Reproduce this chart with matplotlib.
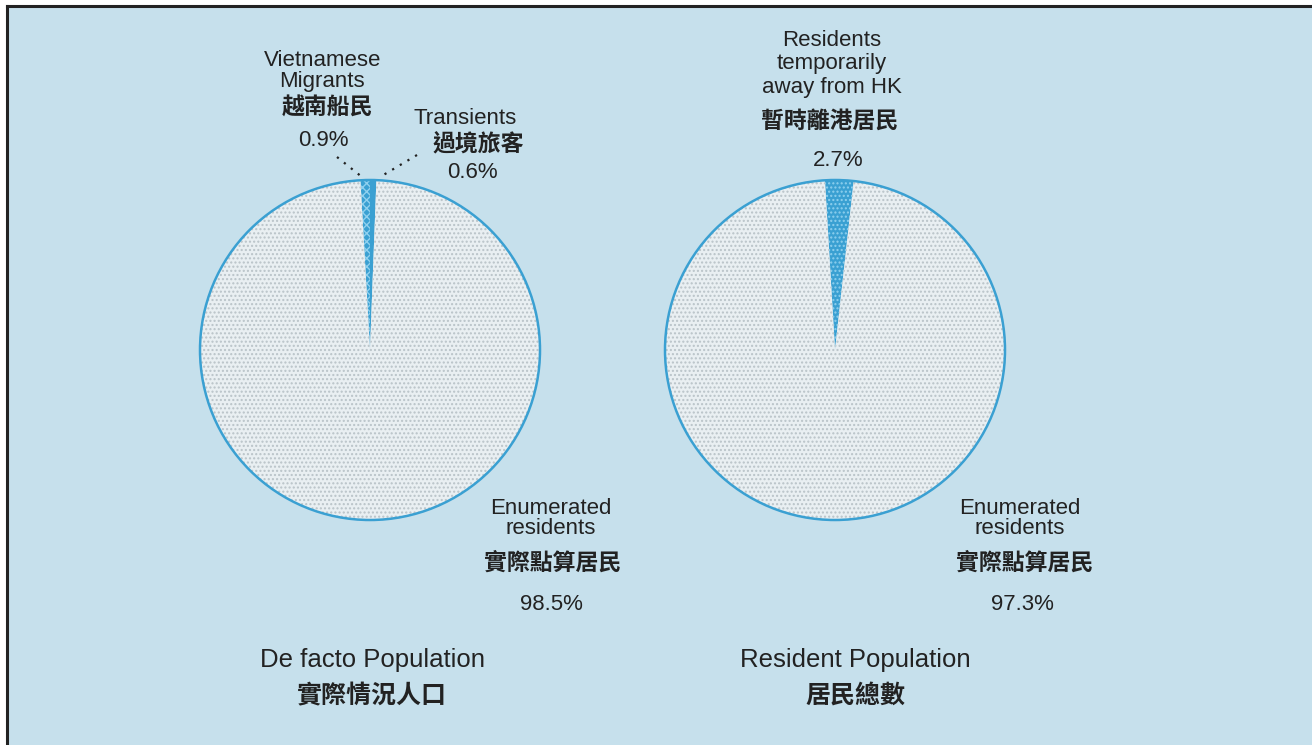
import matplotlib.pyplot as plt
from matplotlib.patches import Circle, Rectangle

# -------------------------
# DATA
# -------------------------
defacto_labels = ["Vietnamese Migrants", "Transients", "Enumerated residents"]
defacto_values = [0.9, 0.6, 98.5]

resident_labels = ["Residents temporarily away from HK", "Enumerated residents"]
resident_values = [2.7, 97.3]

# -------------------------
# STYLE
# -------------------------
BG = "#c6e0ec"
PIE_FILL = "#e9eff2"
DOTS = "#b9c3c8"
BLUE = "#3aa0d2"
TXT = "#222222"
FONT = ["Liberation Sans", "Noto Sans CJK TC"]
CJK = ["Noto Sans CJK TC", "Liberation Sans"]

W, H = 1312, 745
fig = plt.figure(figsize=(W / 100, H / 100), dpi=100)
fig.patch.set_facecolor("white")
ax = fig.add_axes([0, 0, 1, 1])
ax.set_xlim(0, W)
ax.set_ylim(0, H)
ax.set_aspect("equal")
ax.axis("off")

# background panel with frame on top and left
ax.add_patch(Rectangle((7, 0), W - 7, H - 6, facecolor=BG, edgecolor="none", zorder=0))
ax.plot([7, 7], [0, H - 6], color="#222222", lw=2.2, zorder=1)
ax.plot([7, W], [H - 6, H - 6], color="#222222", lw=2.2, zorder=1)


def y(p):
    # pixel row from the top -> data y
    return H - p


def draw_pie(values, center, start, hatches):
    wedges, _ = ax.pie(values, center=center, radius=170, startangle=start,
                       counterclock=False, frame=True,
                       colors=[BLUE] * (len(values) - 1) + [PIE_FILL],
                       wedgeprops=dict(linewidth=0))
    for w, h in zip(wedges, hatches):
        if h:
            w.set_hatch(h)
            w.set_edgecolor(DOTS if w.get_facecolor()[0] > 0.8 else "#8fd0ee")
    ax.add_patch(Circle(center, 170, fill=False, edgecolor=BLUE, lw=1.8, zorder=5))


c1 = (370, y(350))
c2 = (835, y(350))
draw_pie(defacto_values, c1, 90 + defacto_values[0] * 3.6, ["xxxx", None, "...."])
draw_pie(resident_values, c2, 93.4, ["....", "...."])

# restore limits after pie
ax.set_xlim(0, W)
ax.set_ylim(0, H)
ax.axis("off")


def label(x, p, s, size=16, cjk=False, weight="normal"):
    ax.text(x, y(p), s, ha="center", va="center", fontsize=size, color=TXT,
            family=CJK if cjk else FONT, fontweight=weight, zorder=6)


# de facto pie labels
label(323, 60, "Vietnamese")
label(322, 81, "Migrants")
label(327, 108, "越南船民", 16.5, True, "bold")
label(323, 140, f"{defacto_values[0]}%")
ax.plot([337, 362], [y(157), y(177)], ls=(0, (1, 3)), color=TXT, lw=1.6)

label(465, 118, "Transients")
label(478, 145, "過境旅客", 16.5, True, "bold")
label(472, 172, f"{defacto_values[1]}%")
ax.plot([417, 380], [y(155), y(177)], ls=(0, (1, 3)), color=TXT, lw=1.6)

label(551, 508, "Enumerated")
label(551, 528, "residents")
label(553, 563, "實際點算居民", 16.5, True, "bold")
label(551, 604, f"{defacto_values[2]}%")

# resident pie labels
label(832, 40, "Residents")
label(832, 64, "temporarily")
label(832, 87, "away from HK")
label(830, 121, "暫時離港居民", 16.5, True, "bold")
label(838, 160, f"{resident_values[0]}%")

label(1020, 508, "Enumerated")
label(1020, 528, "residents")
label(1025, 563, "實際點算居民", 16.5, True, "bold")
label(1022, 604, f"{resident_values[1]}%")

# titles
label(372, 660, "De facto Population", 18.5)
label(372, 696, "實際情況人口", 18, True, "bold")
label(855, 660, "Resident Population", 18.5)
label(855, 696, "居民總數", 18, True, "bold")

fig.savefig("out.png", dpi=100, facecolor=fig.get_facecolor())
